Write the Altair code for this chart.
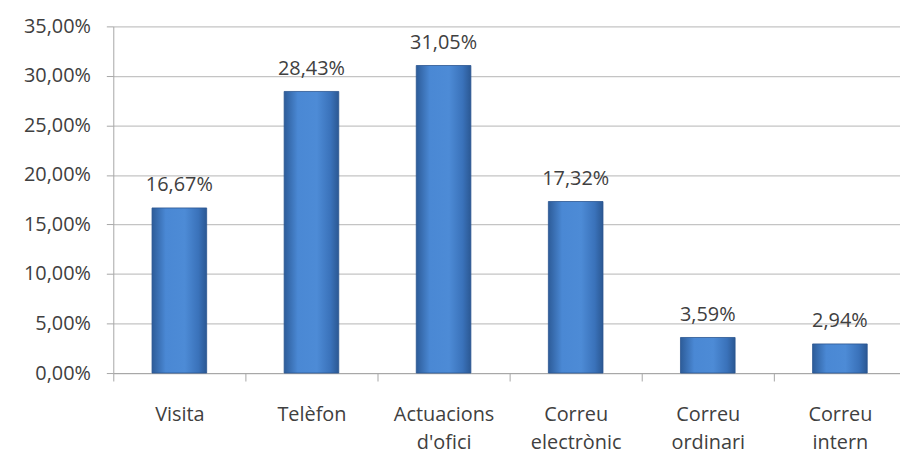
import altair as alt
import pandas as pd

categories = ["Visita", "Telèfon", "Actuacions d'ofici", "Correu electrònic", "Correu ordinari", "Correu intern"]
values = [0.1667, 0.2843, 0.3105, 0.1732, 0.0359, 0.0294]
y_ticks = [0, 0.05, 0.10, 0.15, 0.20, 0.25, 0.30, 0.35]

df = pd.DataFrame({"cat": categories, "val": values})

FONT = "Open Sans"
TXT = "#404040"

label_expr = (
    "datum.value == \"Actuacions d'ofici\" ? ['Actuacions', \"d'ofici\"] : "
    "datum.value == 'Correu electrònic' ? ['Correu', 'electrònic'] : "
    "datum.value == 'Correu ordinari' ? ['Correu', 'ordinari'] : "
    "datum.value == 'Correu intern' ? ['Correu', 'intern'] : datum.value"
)

x = alt.X(
    "cat:N",
    sort=categories,
    title=None,
    scale=alt.Scale(range=[0, 798], paddingInner=0, paddingOuter=0),
    axis=alt.Axis(
        labelExpr=label_expr,
        labelAngle=0,
        labelFont=FONT,
        labelFontSize=20,
        labelColor=TXT,
        labelLineHeight=28,
        labelBaseline="top",
        labelPadding=24,
        tickBand="extent",
        tickSize=8,
        tickColor="#a6a6a6",
        domainColor="#a6a6a6",
        grid=False,
    ),
)

y = alt.Y(
    "val:Q",
    title=None,
    scale=alt.Scale(domain=[0, 0.35], nice=False),
    axis=alt.Axis(
        values=y_ticks,
        labelExpr="replace(format(datum.value, '.2%'), '.', ',')",
        labelFont=FONT,
        labelFontSize=20,
        labelColor=TXT,
        labelPadding=16,
        tickSize=7,
        tickColor="#a6a6a6",
        domainColor="#a6a6a6",
        gridColor="#c4c4c4",
        gridWidth=1.2,
    ),
)

grad = alt.Gradient(
    gradient="linear",
    x1=0, x2=1, y1=0, y2=0,
    stops=[
        alt.GradientStop(color="#2d5c99", offset=0),
        alt.GradientStop(color="#4a88d4", offset=0.25),
        alt.GradientStop(color="#4d8bd6", offset=0.6),
        alt.GradientStop(color="#3a72ba", offset=0.85),
        alt.GradientStop(color="#2b5893", offset=1),
    ],
)

bars = alt.Chart(df).mark_bar(width=55, color=grad, stroke="#2a5590", strokeWidth=0.8).encode(x=x, y=y)

labels = alt.Chart(df).transform_calculate(
    lbl="replace(format(datum.val, '.2%'), '.', ',')"
).mark_text(
    font=FONT, fontSize=20, color=TXT, baseline="alphabetic", dy=-17
).encode(x=alt.X("cat:N", sort=categories), y="val:Q", text="lbl:N")

chart = alt.layer(bars, labels).properties(
    width=786,
    height=349,
    autosize=alt.AutoSizeParams(type="none"),
    padding={"left": 106, "top": 17, "right": 6, "bottom": 82},
).configure(background="white").configure_view(stroke=None)

chart.save("out.html", embed_options={"renderer": "svg", "actions": False})
